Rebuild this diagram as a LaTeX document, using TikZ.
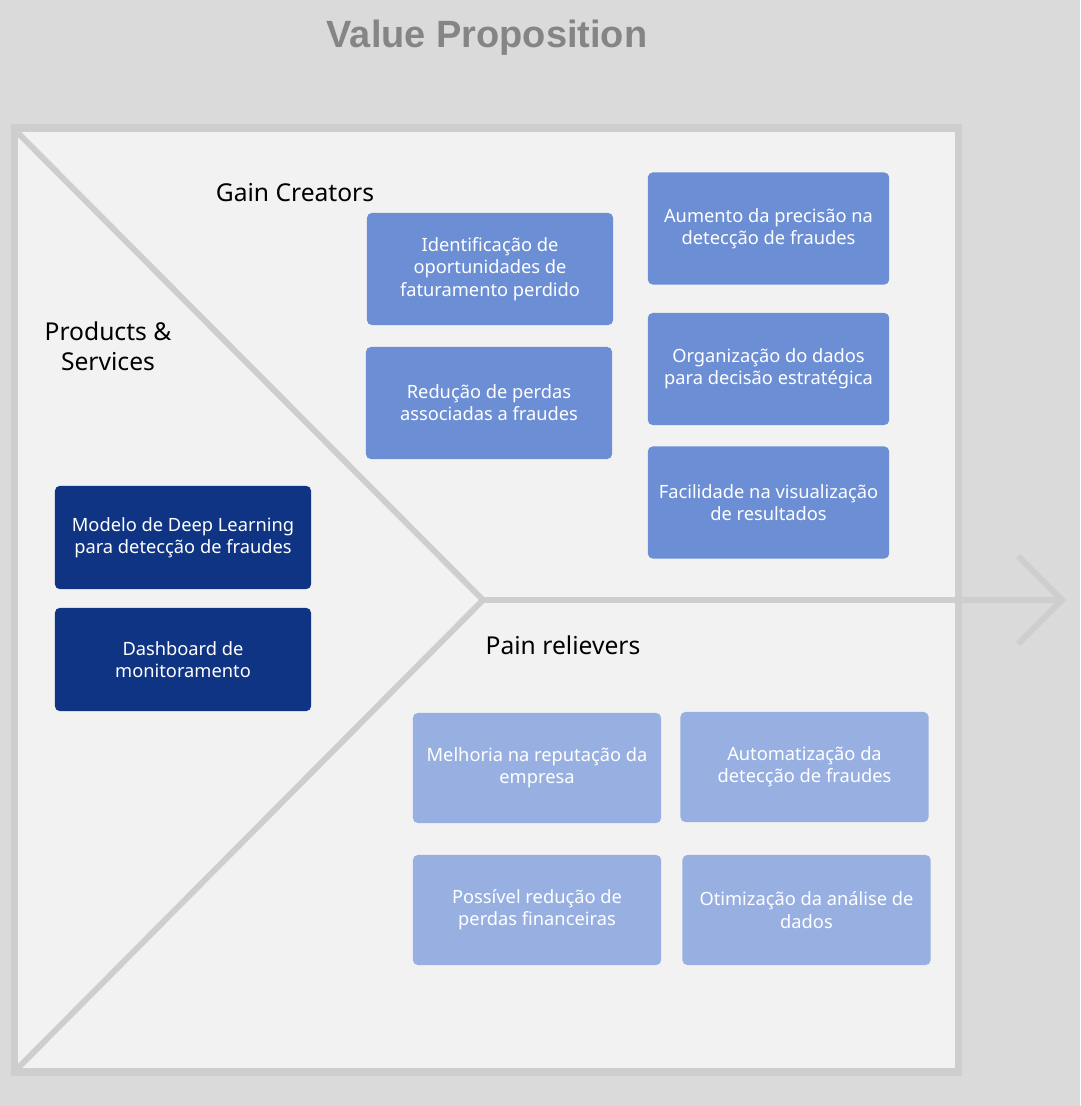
\documentclass[tikz,border=0pt]{standalone}
\usepackage{fontspec}
\setmainfont{Noto Sans}
\newfontfamily\titlefont{Liberation Sans}
\usetikzlibrary{positioning}
\definecolor{bgGray}{HTML}{DADADA}
\definecolor{paperGray}{HTML}{F2F2F2}
\definecolor{lineGray}{HTML}{CECECE}
\definecolor{titleGray}{HTML}{858585}
\definecolor{gainBlue}{HTML}{6C8ED4}
\definecolor{prodBlue}{HTML}{0F3483}
\definecolor{painBlue}{HTML}{97B0E1}
\tikzset{
	every text node part/.style = {align=center},
	vpbox/.style = {
		rounded corners=1.2mm,
		text=white,
		inner sep=0pt,
		font=\fontsize{13}{15.8}\selectfont
	},
	gainbox/.style = {vpbox, fill=gainBlue, minimum width=6.15cm, minimum height=2.8cm},
	prodbox/.style = {vpbox, fill=prodBlue, minimum width=6.4cm, minimum height=2.58cm},
	painbox/.style = {vpbox, fill=painBlue, minimum width=6.2cm, minimum height=2.75cm},
	vplabel/.style = {font=\fontsize{17.5}{21.5}\selectfont, text=black},
	vpline/.style = {draw=lineGray, line width=4.2pt}
}

\begin{document}
\begin{tikzpicture}[x=0.025cm, y=-0.025cm]
	
	\useasboundingbox (0,0) rectangle (1080,1106);
	\fill [bgGray] (0,0) rectangle (1080,1106);
	
	% frame and canvas
	\draw [fill=paperGray, draw=lineGray, line width=5pt] (14.5,128) rectangle (958.5,1072);
	\coordinate (vtop) at (18,133);
	\coordinate (vtip) at (483,600);
	\coordinate (vbot) at (18,1068);
	\coordinate (arrowend) at (1062,600);
	\coordinate (chevtop) at (1018,556);
	\coordinate (chevbot) at (1018,644);
	\draw [vpline] (vtop) -- (vtip) -- (vbot);
	\draw [vpline] (vtip) -- (arrowend);
	\draw [vpline, line join=miter] (chevtop) -- (arrowend) -- (chevbot);
	
	\node [font=\titlefont\bfseries\fontsize{27}{32}\selectfont, text=titleGray] (title) at (487,38) {Value Proposition};
	
	% section labels
	\node [vplabel] (gainlabel) at (295,193) {Gain Creators};
	\node [vplabel] (prodlabel) at (108,346) {Products \&\\Services};
	\node [vplabel] (painlabel) at (563,645) {Pain relievers};
	
	% gain creators
	\node [gainbox] (gainA) at (490,269) {Identificação de\\oportunidades de\\faturamento perdido};
	\node [gainbox] (gainB) at (489,403) {Redução de perdas\\associadas a fraudes};
	\node [gainbox, minimum width=6.03cm] (gainC) at (768.5,228.5) {Aumento da precisão na\\detecção de fraudes};
	\node [gainbox, minimum width=6.03cm] (gainD) at (768.5,369) {Organização do dados\\para decisão estratégica};
	\node [gainbox, minimum width=6.03cm] (gainE) at (768.5,502.5) {Facilidade na visualização\\de resultados};
	
	% products and services
	\node [prodbox] (prodA) at (183,537.5) {Modelo de Deep Learning\\para detecção de fraudes};
	\node [prodbox] (prodB) at (183,659.5) {Dashboard de\\monitoramento};
	
	% pain relievers
	\node [painbox] (painA) at (537,768) {Melhoria na reputação da\\empresa};
	\node [painbox] (painB) at (804.5,767) {Automatização da\\detecção de fraudes};
	\node [painbox] (painC) at (537,910) {Possível redução de\\perdas financeiras};
	\node [painbox] (painD) at (806.5,910) {Otimização da análise de\\dados};
	
\end{tikzpicture}
\end{document}
